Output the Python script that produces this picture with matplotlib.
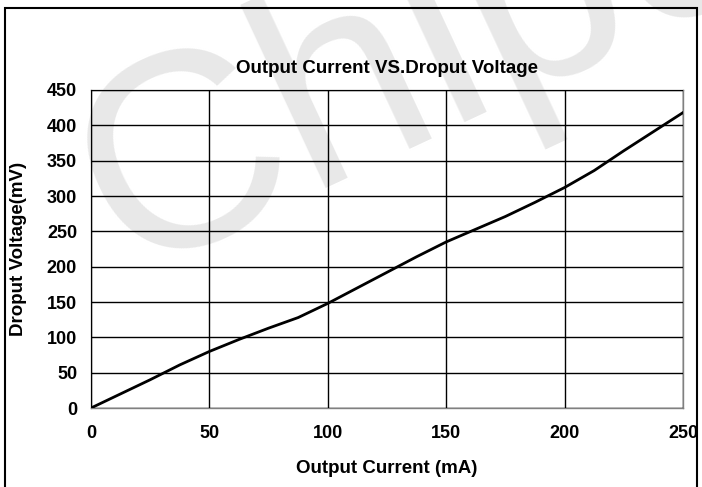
import matplotlib.pyplot as plt
from matplotlib.patches import Rectangle

# 输出电流 (mA) 与压差 (mV)
current_ma = [0, 12.5, 25, 37.5, 50, 62.5, 75, 87.5, 100, 112.5, 125,
              137.5, 150, 162.5, 175, 187.5, 200, 212.5, 225, 237.5, 250]
dropout_mv = [0, 20, 40, 61, 80, 97, 113, 128, 148, 170, 192,
              214, 235, 253, 271, 291, 312, 336, 364, 391, 418]

x_ticks = [0, 50, 100, 150, 200, 250]
y_ticks = [0, 50, 100, 150, 200, 250, 300, 350, 400, 450]

plt.rcParams["font.family"] = ["Liberation Sans", "DejaVu Sans"]

fig = plt.figure(figsize=(7.02, 4.87), dpi=100)
ax = fig.add_axes([0.1296, 0.1622, 0.8433, 0.653])
ax.set_facecolor("none")

# 水印
ax.text(-0.084, 0.437, "Chipown", transform=ax.transAxes, fontsize=200,
        color="#e8e8e8", rotation=25, ha="left", va="baseline",
        zorder=0, clip_on=False)

ax.plot(current_ma, dropout_mv, c="black", lw=2, zorder=3)

ax.set_xlim(0, 250)
ax.set_ylim(0, 450)
ax.set_xticks(x_ticks)
ax.set_yticks(y_ticks)
ax.grid(True, color="black", lw=1, zorder=1)
ax.set_axisbelow(False)
for s in ax.spines.values():
    s.set_color("#808080")
    s.set_linewidth(1)
ax.tick_params(axis="both", length=0, labelsize=13)
ax.tick_params(axis="x", pad=12)
ax.tick_params(axis="y", pad=10)
for lab in ax.get_xticklabels() + ax.get_yticklabels():
    lab.set_fontweight("bold")

ax.set_title("Output Current VS.Droput Voltage", fontsize=13.5,
             fontweight="bold", pad=12)
ax.set_xlabel("Output Current (mA)", fontsize=13.5, fontweight="bold",
              labelpad=13)
ax.set_ylabel("Droput Voltage(mV)", fontsize=13.5, fontweight="bold",
              labelpad=14)

# 外框
fig.patches.append(Rectangle((5 / 702, -0.01), 692 / 702, 1 - 8 / 487 + 0.01,
                             transform=fig.transFigure, fill=False,
                             edgecolor="black", lw=1.5))

fig.savefig("out.png", dpi=100)
